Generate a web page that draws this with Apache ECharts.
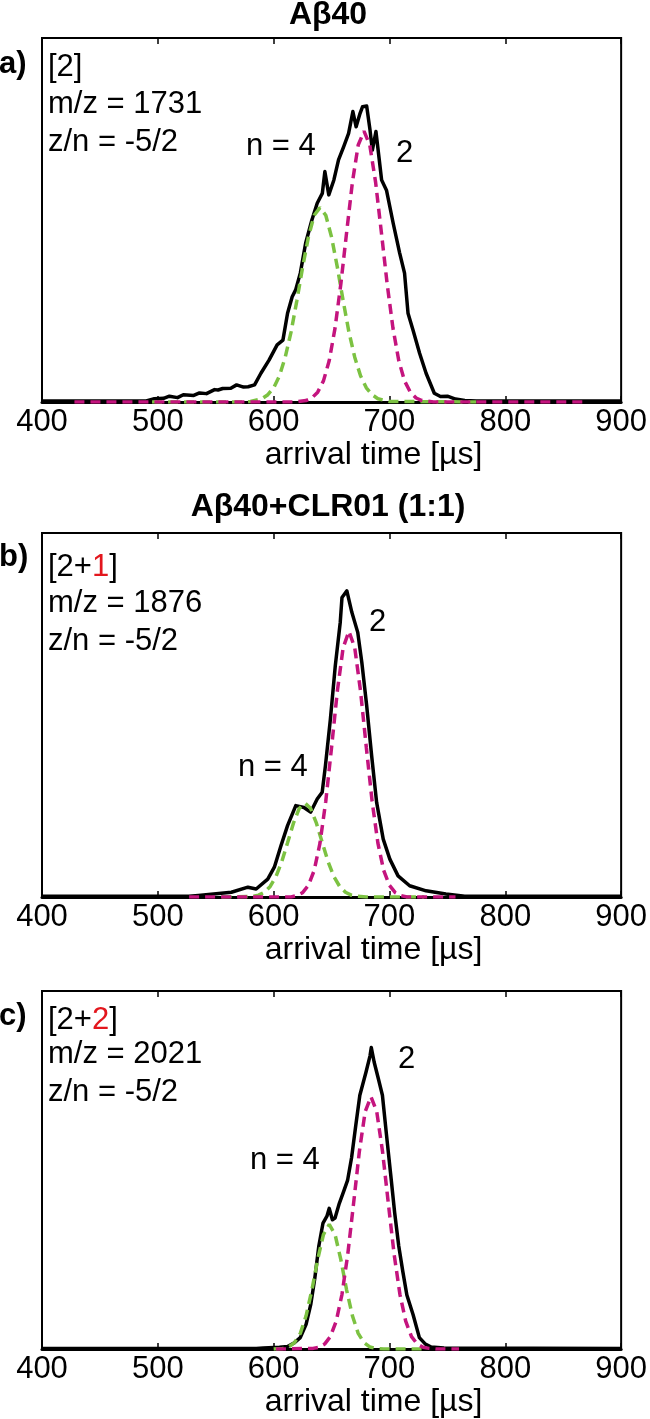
<!DOCTYPE html>
<html><head><meta charset="utf-8">
<script src="https://cdn.jsdelivr.net/npm/echarts@6/dist/echarts.min.js"></script>
<style>html,body{margin:0;padding:0;background:#fff}#c{width:650px;height:1419px}</style>
</head><body><div id="c"></div><script>
// ---------- DATA ----------
const timeTicks = [400, 500, 600, 700, 800, 900];
const panelLetters = ['a)', 'b)', 'c)'];
const panelTitles = ['Aβ40', 'Aβ40+CLR01 (1:1)', ''];
const complexBase = ['[2', '[2+', '[2+'];
const complexLigand = ['', '1', '2'];
const mzLabels = ['m/z = 1731', 'm/z = 1876', 'm/z = 2021'];
const znLabels = ['z/n = -5/2', 'z/n = -5/2', 'z/n = -5/2'];
const nLabels = ['n = 4', 'n = 4', 'n = 4'];
const dimerLabels = ['2', '2', '2'];

// Panel a: measured ATD (black)
const aMeasT = [400,490,497,505,510,517,522,531,536,542,549,552,556,563,568,574,578,583.5,589,596,603,608,612,616,619,623,627.6,633,637.6,642,644.2,647.6,652,656,660.4,664.7,668.4,671.2,674.6,676.7,680.3,683.2,685.2,688.3,691.2,693.2,697.4,703.2,708.8,713,716,720.3,726,731.6,738.7,744,750,757,765,775,900];
const aMeasV = [0.3,0.3,0.9,1.0,1.6,1.2,2.0,1.8,2.5,2.3,3.4,3.3,3.7,3.8,4.7,4.1,4.2,4.7,7.9,11.5,15.7,17.0,24.4,28.9,30.8,35.4,43.6,50.0,54.6,57.3,63.3,56.9,61.0,66.5,70.1,73.8,79.8,75.6,79.3,81.1,81.3,74.7,69.2,74.3,66.5,61.0,58.2,49.1,40.9,35.4,24.4,19.8,13.4,7.9,2.4,1.5,1.6,0.8,0.4,0.3,0.3];
// Panel a: n = 4 fit (green)
const aTetT = [495,575,580,590,595,600,605,610,615,620,625,630,635,640,645,650,655,660,665,670,675,680,685,690,700,775];
const aTetV = [0,0,0.15,0.9,2.0,3.9,7.2,12.3,19.2,27.8,37.0,45.3,51.3,53.4,51.3,45.3,37.0,27.8,19.2,12.3,7.2,3.9,2.0,0.9,0.15,0];
// Panel a: n = 2 fit (magenta)
const aDimT = [428,618,628,633,638,643,648,653,658,663,668,673,678,683,688,693,698,703,708,713,718,723,728,738,868];
const aDimV = [0,0,0.4,1.1,2.7,5.8,11.4,20.3,32.4,46.6,60.4,70.6,74.4,70.6,60.4,46.6,32.4,20.3,11.4,5.8,2.7,1.1,0.4,0,0];

// Panel b
const bMeasT = [400,527,535,563.5,577.8,584.9,594.9,600.6,606.3,612,619.1,626.2,631.9,637.6,641.9,644.7,649,653.2,657.5,659,663.2,667.5,672.6,676.1,680.3,684.6,688.9,694.6,700.3,707.4,717.4,731.6,748.7,765,900];
const bMeasV = [0.2,0.2,0.4,1.3,2.7,2.2,4.9,8.2,14.1,19.6,25.1,24.6,23.3,26.9,28.8,36.1,48.9,63.5,75.5,82.3,84.1,78.2,72.7,64.5,52.6,38.8,26.0,15.9,10.4,5.8,3.1,1.7,0.8,0.2,0.2];
const bTetT = [555,582,587,592,597,602,607,612,617,622,627,632,637,642,647,652,657,662,667,672,680,730];
const bTetV = [0,0.2,0.5,1.3,2.9,5.6,9.7,14.9,20.2,24.3,25.8,24.3,20.2,14.9,9.7,5.6,2.9,1.3,0.5,0.2,0,0];
const bDimT = [527,615,620,625,630,635,640,645,650,655,660,665,670,675,680,685,690,695,700,705,710,715,757];
const bDimV = [0,0,0.4,1.2,3.2,7.3,14.8,26.3,41.1,56.6,68.5,73.0,68.5,56.6,41.1,26.3,14.8,7.3,3.2,1.2,0.4,0,0];

// Panel c
const cMeasT = [400,585,591,605,612,618,623,628,632,635.5,639,642.6,646,648,650.7,653,656.7,660.3,663.8,667.3,671,674.4,679.7,683.2,684.3,686.8,690.4,693.9,697.4,701,704.5,708,711.6,715,720.4,725.8,731,736,747,900];
const cMeasV = [0.2,0.2,0.3,0.5,0.7,1.8,3.2,6.9,12.4,19.7,28.8,35.2,37.1,39.3,36.1,36.6,40.7,43.9,47.1,53.5,62.7,70.9,77.3,81.9,84.2,80.1,75.5,70.9,59.9,48.9,38.0,28.8,21.5,15.1,9.6,3.2,1.4,0.6,0.3,0.2];
const cTetT = [600,608,613,618,623,628,633,638,643,648,653,658,663,668,673,678,683,688,695,730];
const cTetV = [0,0.2,0.6,1.8,4.4,9.3,16.5,25.0,32.0,34.8,32.0,25.0,16.5,9.3,4.4,1.8,0.6,0.2,0,0];
const cDimT = [602,634,639,644,649,654,659,664,669,674,679,684,689,694,699,704,709,714,719,724,729,734,740,760];
const cDimV = [0,0.2,0.5,1.4,3.5,7.8,15.3,26.5,40.7,55.2,66.3,70.5,66.3,55.2,40.7,26.5,15.3,7.8,3.5,1.4,0.5,0.2,0,0];

// ---------- LAYOUT / STYLE ----------
const FONT = '"Liberation Sans", Arial, Helvetica, sans-serif';
const gridTops = [38, 533, 991];
const gridLeft = 42, gridW = 585, gridH = 364;
const GREEN = '#7cc242', MAGENTA = '#c4147e', RED = '#e3161d';
const FS = 31;

const zip = (t, v) => t.map((x, i) => [x, v[i]]);
const panels = [
  {meas: zip(aMeasT, aMeasV), tet: zip(aTetT, aTetV), dim: zip(aDimT, aDimV)},
  {meas: zip(bMeasT, bMeasV), tet: zip(bTetT, bTetV), dim: zip(bDimT, bDimV)},
  {meas: zip(cMeasT, cMeasV), tet: zip(cTetT, cTetV), dim: zip(cDimT, cDimV)}
];

const grid = [], xAxis = [], yAxis = [], series = [];
panels.forEach((p, i) => {
  grid.push({left: gridLeft, top: gridTops[i], width: gridW, height: gridH,
    show: true, borderColor: '#000', borderWidth: 2, backgroundColor: 'transparent', containLabel: false});
  xAxis.push({gridIndex: i, type: 'value', position: 'bottom',
    min: timeTicks[0], max: timeTicks[timeTicks.length - 1], interval: timeTicks[1] - timeTicks[0],
    axisLine: {show: true, onZero: false, lineStyle: {color: '#000', width: 3}},
    axisTick: {show: true, inside: true, length: 6, lineStyle: {color: '#000', width: 1.5}},
    axisLabel: {show: true, color: '#000', fontSize: FS, fontFamily: FONT, margin: 5},
    splitLine: {show: false},
    name: 'arrival time [µs]', nameLocation: 'middle', nameGap: 35,
    nameTextStyle: {color: '#000', fontSize: 32, fontFamily: FONT, padding: [0, 0, 0, 84]}
  });
  xAxis.push({gridIndex: i, type: 'value', position: 'top',
    min: timeTicks[0], max: timeTicks[timeTicks.length - 1], interval: timeTicks[1] - timeTicks[0],
    axisLine: {show: true, onZero: false, lineStyle: {color: '#000', width: 2}},
    axisTick: {show: true, inside: true, length: 6, lineStyle: {color: '#000', width: 1.5}},
    axisLabel: {show: false}, splitLine: {show: false}
  });
  yAxis.push({gridIndex: i, type: 'value', min: 0, max: 100,
    axisLine: {show: true, onZero: false, lineStyle: {color: '#000', width: 2}},
    axisTick: {show: false}, axisLabel: {show: false}, splitLine: {show: false}
  });
  const common = {type: 'line', xAxisIndex: 2 * i, yAxisIndex: i, symbol: 'none', showSymbol: false, animation: false, silent: true};
  series.push(Object.assign({}, common, {name: 'measured ' + i, data: p.meas, z: 3,
    lineStyle: {color: '#000', width: 3.5, join: 'round'}}));
  series.push(Object.assign({}, common, {name: 'n=4 ' + i, data: p.tet, z: 4,
    lineStyle: {color: GREEN, width: 3.5, type: [10, 6]}}));
  series.push(Object.assign({}, common, {name: 'n=2 ' + i, data: p.dim, z: 5,
    lineStyle: {color: MAGENTA, width: 3.5, type: [10, 6]}}));
});

// text annotations
const txt = (x, y, text, extra) => ({type: 'text', x: x, y: y, z: 100, silent: true,
  style: Object.assign({text: text, fill: '#000', fontSize: FS, fontFamily: FONT, align: 'left', verticalAlign: 'middle'}, extra || {})});
const titleY = [15, 507, null];
const letterY = [64, 557, 1016];
const lineY = [[67, 104, 142], [567, 603, 641], [1020, 1054, 1092]];
const nPos = [[246, 146], [238, 767], [250, 1160]];
const dPos = [[396, 153], [369, 622], [398, 1059]];
const graphic = [];
for (let i = 0; i < 3; i++) {
  if (panelTitles[i]) graphic.push(txt(328, titleY[i], panelTitles[i], {align: 'center', fontWeight: 'bold', fontSize: 32}));
  graphic.push(txt(-1, letterY[i], panelLetters[i], {fontWeight: 'bold', fontSize: 31}));
  graphic.push(txt(48, lineY[i][0], '{k|' + complexBase[i] + '}' + (complexLigand[i] ? '{r|' + complexLigand[i] + '}' : '') + '{k|]}',
    {rich: {k: {fill: '#000', fontSize: FS, fontFamily: FONT}, r: {fill: RED, fontSize: FS, fontFamily: FONT}}}));
  graphic.push(txt(48, lineY[i][1], mzLabels[i]));
  graphic.push(txt(48, lineY[i][2], znLabels[i]));
  graphic.push(txt(nPos[i][0], nPos[i][1], nLabels[i]));
  graphic.push(txt(dPos[i][0], dPos[i][1], dimerLabels[i]));
}

const chart = echarts.init(document.getElementById('c'), null, {renderer: 'canvas'});
chart.setOption({
  animation: false,
  backgroundColor: '#fff',
  textStyle: {fontFamily: FONT},
  grid: grid, xAxis: xAxis, yAxis: yAxis, series: series, graphic: graphic
});
</script></body></html>
